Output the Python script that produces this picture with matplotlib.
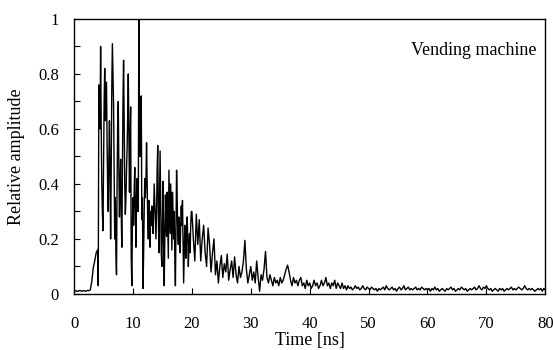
from matplotlib import pyplot as plt
import numpy as np

plt.rcParams['font.family'] = ['Liberation Serif', 'DejaVu Serif']

# amplitude in three pieces (different sample steps)
start1, step1 = 0.0, 0.25
amp1 = [0.010, 0.012, 0.009, 0.011, 0.013, 0.010, 0.012, 0.011, 0.010, 0.013,
        0.012, 0.015, 0.045, 0.095, 0.120, 0.150]

start2, step2 = 4.0, 0.1
amp2 = [0.16, 0.03, 0.76, 0.68, 0.60, 0.90, 0.62, 0.40, 0.30, 0.23,
        0.45, 0.70, 0.82, 0.63, 0.70, 0.77, 0.55, 0.38, 0.30, 0.50,
        0.63, 0.45, 0.20, 0.45, 0.75, 0.91, 0.80, 0.69, 0.45, 0.20,
        0.35, 0.15, 0.07, 0.40, 0.62, 0.70, 0.45, 0.28, 0.40, 0.49,
        0.30, 0.17, 0.45, 0.70, 0.85, 0.62, 0.40, 0.29, 0.35, 0.45,
        0.53, 0.65, 0.80, 0.60, 0.37, 0.55, 0.68, 0.13, 0.03, 0.25,
        0.35, 0.25, 0.38, 0.46, 0.30, 0.17, 0.35, 0.42, 0.30, 0.30,
        1.05, 0.60, 0.50, 0.65, 0.72, 0.27, 0.35, 0.02, 0.14, 0.30,
        0.42, 0.35, 0.41, 0.55, 0.40, 0.27, 0.20, 0.34, 0.30, 0.17,
        0.30, 0.25, 0.32, 0.28, 0.22, 0.30, 0.40, 0.33, 0.25, 0.20,
        0.30, 0.45, 0.54, 0.30, 0.15, 0.35, 0.52, 0.35, 0.15, 0.10,
        0.25, 0.41, 0.20, 0.03, 0.20, 0.36, 0.30, 0.21, 0.37, 0.25,
        0.13, 0.45, 0.33, 0.22, 0.40, 0.28, 0.16, 0.37, 0.30, 0.20,
        0.30, 0.14, 0.03, 0.25, 0.45, 0.35, 0.22, 0.18, 0.28, 0.20,
        0.15, 0.25, 0.32, 0.25, 0.34, 0.18, 0.04, 0.15, 0.25, 0.20,
        0.13, 0.22, 0.28, 0.20, 0.10, 0.18, 0.22, 0.15, 0.25, 0.30]

start3, step3 = 20.0, 0.25
amp3 = [0.30, 0.20, 0.12, 0.29, 0.18, 0.27, 0.12, 0.20, 0.25, 0.15,
        0.10, 0.24, 0.18, 0.08, 0.15, 0.20, 0.07, 0.12, 0.04, 0.10,
        0.14, 0.06, 0.11, 0.08, 0.145, 0.05, 0.09, 0.12, 0.06, 0.135,
        0.07, 0.04, 0.10, 0.06, 0.08, 0.12, 0.195, 0.09, 0.04, 0.07,
        0.10, 0.05, 0.08, 0.04, 0.12, 0.06, 0.01, 0.07, 0.05, 0.09,
        0.155, 0.06, 0.04, 0.07, 0.05, 0.03, 0.06, 0.04, 0.05, 0.03,
        0.06, 0.04, 0.05, 0.07, 0.09, 0.105, 0.08, 0.05, 0.03, 0.06,
        0.04, 0.05, 0.03, 0.05, 0.06, 0.03, 0.04, 0.02, 0.05, 0.03,
        0.04, 0.02, 0.03, 0.05, 0.03, 0.04, 0.02, 0.03, 0.05, 0.03,
        0.04, 0.06, 0.03, 0.04, 0.02, 0.04, 0.03, 0.05, 0.02, 0.04,
        0.03, 0.02, 0.04, 0.02, 0.03, 0.015, 0.03, 0.02, 0.025, 0.015,
        0.02, 0.03, 0.02, 0.025, 0.015, 0.02, 0.03, 0.02, 0.015, 0.025,
        0.02, 0.015, 0.025, 0.02, 0.015, 0.02, 0.01, 0.02, 0.015, 0.02,
        0.025, 0.015, 0.03, 0.02, 0.015, 0.02, 0.025, 0.015, 0.02, 0.01,
        0.02, 0.025, 0.015, 0.02, 0.03, 0.015, 0.02, 0.025, 0.015, 0.02,
        0.015, 0.02, 0.025, 0.015, 0.02, 0.015, 0.025, 0.02, 0.015, 0.02,
        0.015, 0.02, 0.01, 0.02, 0.015, 0.025, 0.015, 0.02, 0.01, 0.015,
        0.02, 0.015, 0.01, 0.02, 0.015, 0.02, 0.025, 0.015, 0.02, 0.01,
        0.015, 0.02, 0.015, 0.025, 0.02, 0.015, 0.02, 0.01, 0.015, 0.02,
        0.015, 0.02, 0.025, 0.015, 0.02, 0.03, 0.02, 0.015, 0.025, 0.02,
        0.03, 0.02, 0.015, 0.02, 0.01, 0.015, 0.02, 0.015, 0.01, 0.02,
        0.015, 0.02, 0.01, 0.015, 0.02, 0.015, 0.02, 0.025, 0.015, 0.02,
        0.015, 0.02, 0.025, 0.02, 0.015, 0.02, 0.03, 0.02, 0.015, 0.02,
        0.015, 0.02, 0.015, 0.01, 0.015, 0.02, 0.015, 0.02, 0.01, 0.02,
        0.015]

x_ticks = [0, 10, 20, 30, 40, 50, 60, 70, 80]
y_ticks = [0, 0.2, 0.4, 0.6, 0.8, 1]
y_labels = ["0", "0.2", "0.4", "0.6", "0.8", "1"]

time = np.concatenate([start1 + step1 * np.arange(len(amp1)),
                       start2 + step2 * np.arange(len(amp2)),
                       start3 + step3 * np.arange(len(amp3))])
amp = np.concatenate([amp1, amp2, amp3])

fig = plt.figure(figsize=(5.53, 3.5), dpi=100)
ax = fig.add_axes([0.134, 0.16, 0.852, 0.786])
ax.plot(time, amp, color="black", lw=1.0)

ax.set_xlim(0, 80)
ax.set_ylim(0, 1)
ax.set_xticks(x_ticks)
ax.set_yticks(y_ticks)
ax.set_yticklabels(y_labels)
ax.set_yticks(np.arange(0.1, 1.0, 0.2), minor=True)
ax.tick_params(which="both", direction="in", length=4, width=0.8, labelsize=12)
ax.tick_params(axis="x", pad=16)
ax.tick_params(axis="y", pad=11)
for s in ax.spines.values():
    s.set_linewidth(1.0)

ax.set_xlabel("Time [ns]", fontsize=13, labelpad=0)
ax.set_ylabel("Relative amplitude", fontsize=13, labelpad=9)
ax.text(0.981, 0.884, "Vending machine", transform=ax.transAxes,
        ha="right", va="center", fontsize=13)

fig.savefig("out.png", dpi=100)
